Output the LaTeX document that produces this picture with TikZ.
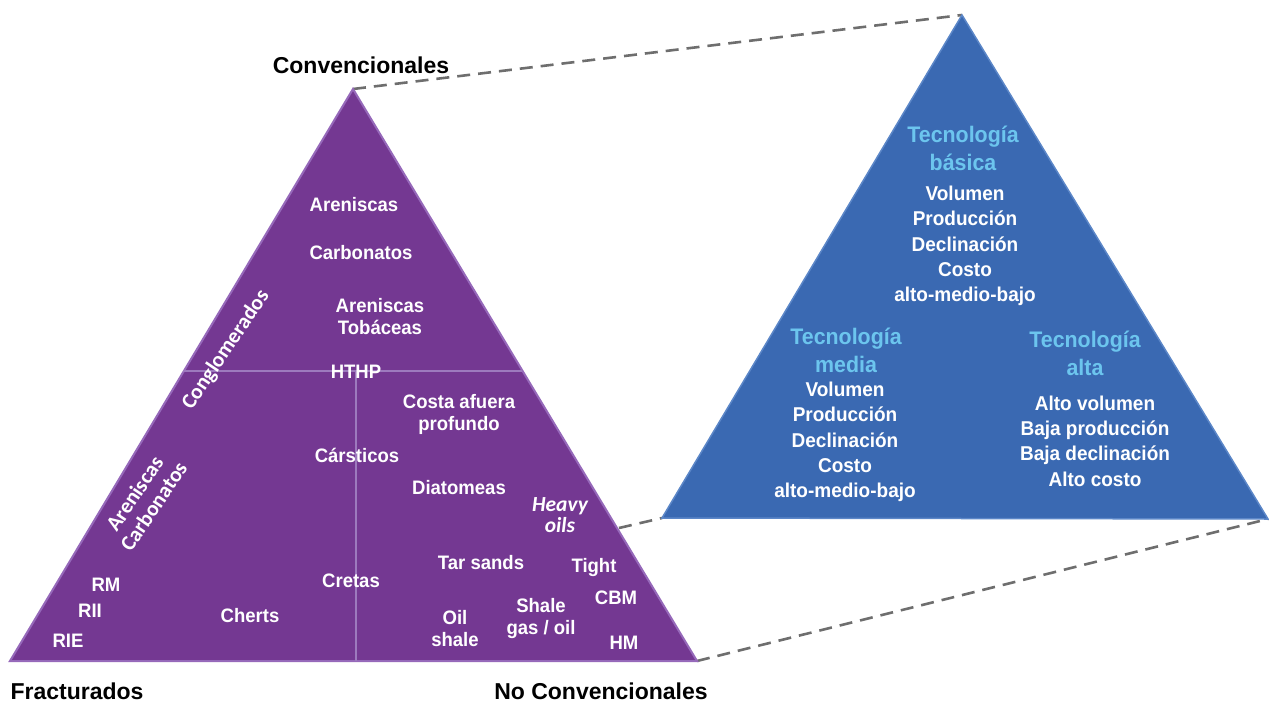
\documentclass[tikz,border=0pt]{standalone}
\usepackage{fontspec}
\setmainfont{Liberation Sans}[FakeStretch=0.95]
\newfontfamily\blackfont{Liberation Sans}
\newfontfamily\calfont{Carlito}
\definecolor{purplefill}{RGB}{116,56,146}
\definecolor{purpleedge}{RGB}{150,105,186}
\definecolor{purpleline}{RGB}{157,122,190}
\definecolor{bluefill}{RGB}{58,105,178}
\definecolor{blueedge}{RGB}{92,135,200}
\definecolor{techblue}{RGB}{108,197,238}
\definecolor{dashgray}{RGB}{110,110,110}
\begin{document}
\begin{tikzpicture}[x=1pt,y=-1pt,
  dashconn/.style={draw=dashgray, line width=2.6pt, dash pattern=on 13pt off 8pt},
  wl/.style={text=white, font=\fontsize{19.5}{22}\selectfont\bfseries, align=center, inner sep=0pt},
  wr/.style={text=white, font=\fontsize{20}{25.4}\selectfont\bfseries, align=center, inner sep=0pt},
  tt/.style={text=techblue, font=\fontsize{22.5}{28}\selectfont\bfseries, align=center, inner sep=0pt},
  blk/.style={text=black, font=\blackfont\fontsize{23}{27}\selectfont\bfseries, inner sep=0pt},
  rot/.style={text=white, font=\calfont\fontsize{21.5}{23}\selectfont\bfseries, align=center, rotate=56, inner sep=0pt},
  itl/.style={text=white, font=\calfont\fontsize{21.5}{21}\selectfont\bfseries\itshape, align=center, inner sep=0pt}
]
\useasboundingbox (0,0) rectangle (1269,704);
% corners
\coordinate (LA) at (353,89);
\coordinate (LB) at (10,661);
\coordinate (LC) at (697,661);
\coordinate (RA) at (962,15);
\coordinate (RB) at (662,518);
\coordinate (RC) at (1268,519);
\coordinate (LE) at (619,528);
\coordinate (H1) at (183,371);
\coordinate (H2) at (522,371);
\coordinate (V1) at (356,371);
\coordinate (V2) at (356,661);
% dashed connectors
\draw[dashconn] (LA) -- (RA);
\draw[dashconn] (LE) -- (RB);
\draw[dashconn] (LC) -- (RC);
% triangles
\filldraw[fill=purplefill, draw=purpleedge, line width=2pt, line join=miter] (LA) -- (LB) -- (LC) -- cycle;
\draw[purpleline, line width=2pt] (H1) -- (H2);
\draw[purpleline, line width=2pt] (V1) -- (V2);
\filldraw[fill=bluefill, draw=blueedge, line width=1.5pt] (RA) -- (RB) -- (RC) -- cycle;
% outer labels
\node[blk] (conv) at (361,65) {Convencionales};
\node[blk] (frac) at (77,691) {Fracturados};
\node[blk] (noconv) at (601,691) {No Convencionales};
% left triangle labels
\node[wl] (aren) at (354,205) {Areniscas};
\node[wl] (carb) at (361,253) {Carbonatos};
\node[wl] (tob) at (380,317) {Areniscas\\Tobáceas};
\node[wl] (hthp) at (356,372) {HTHP};
\node[rot] (cong) at (226,350) {Conglomerados};
\node[rot] (arcar) at (144,500) {Areniscas\\Carbonatos};
\node[wl] (costa) at (459,414) {Costa afuera\\profundo};
\node[wl] (carst) at (357,455) {Cársticos};
\node[wl] (diat) at (459,488) {Diatomeas};
\node[itl] (heavy) at (560,515) {Heavy\\oils};
\node[wl] (tar) at (481,563) {Tar sands};
\node[wl] (tight) at (594,567) {Tight};
\node[wl] (cret) at (351,581) {Cretas};
\node[wl] (cbm) at (616,598) {CBM};
\node[wl] (rm) at (106,585) {RM};
\node[wl] (rii) at (90,611) {RII};
\node[wl] (rie) at (68,641) {RIE};
\node[wl] (chert) at (250,616) {Cherts};
\node[wl] (oil) at (455,629) {Oil\\shale};
\node[wl] (shale) at (541,618) {Shale\\gas / oil};
\node[wl] (hm) at (624,643) {HM};
% right triangle labels
\node[tt] (tbas) at (963,148) {Tecnología\\básica};
\node[wr] (bbas) at (965,246) {Volumen\\Producción\\Declinación\\Costo\\alto-medio-bajo};
\node[tt] (tmed) at (846,350) {Tecnología\\media};
\node[wr] (bmed) at (845,442) {Volumen\\Producción\\Declinación\\Costo\\alto-medio-bajo};
\node[tt] (talt) at (1085,353) {Tecnología\\alta};
\node[wr] (balt) at (1095,441) {Alto volumen\\Baja producción\\Baja declinación\\Alto costo};
\end{tikzpicture}
\end{document}
